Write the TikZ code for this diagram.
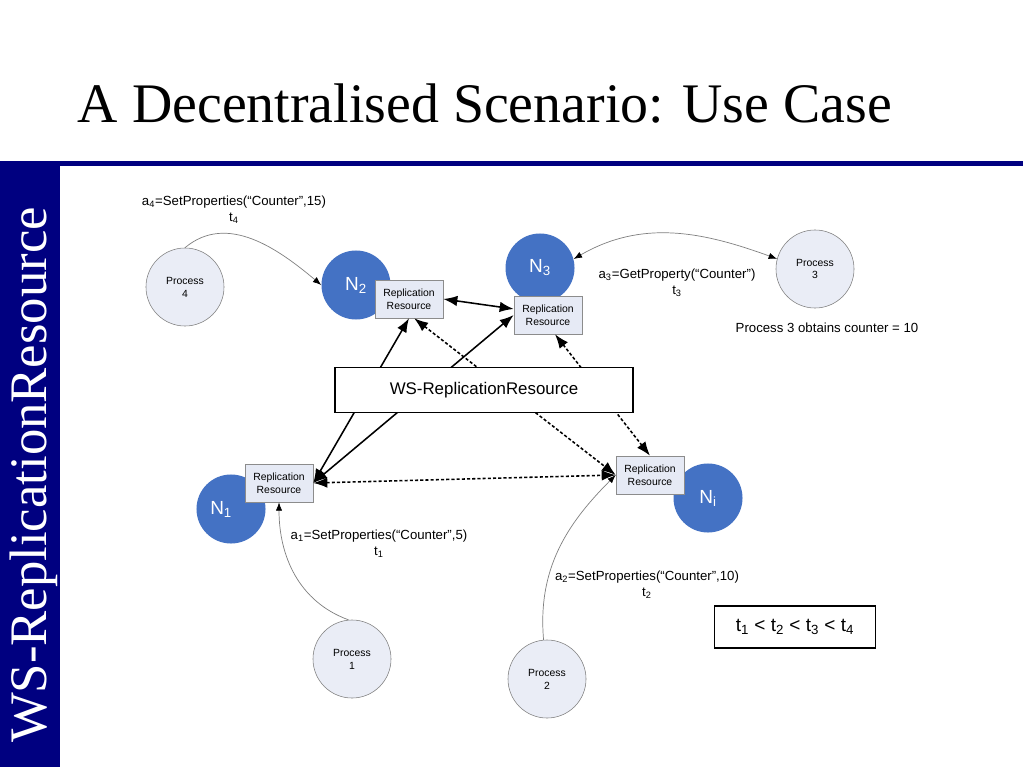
\documentclass[tikz,border=0pt]{standalone}
\usepackage{fontspec}
\setmainfont{Liberation Sans}
\newfontfamily\titlefont{Liberation Serif}
\usepackage{xcolor}
\usepackage{tikz}
\usetikzlibrary{arrows.meta}

\definecolor{barblue}{RGB}{0,0,128}
\definecolor{nodeblue}{RGB}{68,114,196}
\definecolor{boxfill}{RGB}{230,234,245}
\definecolor{procfill}{RGB}{234,237,246}
\definecolor{linegray}{RGB}{128,128,128}
\definecolor{boxgray}{RGB}{140,140,140}

\begin{document}
\begin{tikzpicture}[x=0.025cm,y=-0.025cm,
    nodecirc/.style={circle,fill=nodeblue,text=white,minimum size=1.725cm,inner sep=0pt,font=\fontsize{13.5}{15}\selectfont},
    nlabel/.style={text=white,font=\fontsize{13.5}{15}\selectfont},
    proc/.style={circle,draw=linegray,fill=procfill,minimum size=1.95cm,inner sep=0pt,align=center,font=\fontsize{7.4}{9.2}\selectfont},
    repl/.style={draw=boxgray,fill=boxfill,minimum width=1.7cm,minimum height=0.95cm,inner sep=0pt,align=center,font=\fontsize{7.4}{9.2}\selectfont},
    msg/.style={align=center,font=\fontsize{9.4}{11.4}\selectfont},
    solidlink/.style={{Latex[length=10pt,width=7.5pt]}-{Latex[length=10pt,width=7.5pt]},line width=1.1pt},
    dotlink/.style={solidlink,dash pattern=on 2.2pt off 1.5pt},
    call/.style={-{Latex[length=6pt,width=4.5pt,color=black]},draw=linegray,line width=0.5pt},
    callboth/.style={{Latex[length=6pt,width=4.5pt,color=black]}-{Latex[length=6pt,width=4.5pt,color=black]},draw=linegray,line width=0.5pt}]
    \fill[white] (0,0) rectangle (1023,767);
    \useasboundingbox (0,0) rectangle (1023,767);
    \fill[barblue] (0,161) rectangle (1023,166);
    \fill[barblue] (0,161) rectangle (60,767);
    \node[anchor=base west,font=\titlefont\fontsize{39.7}{48}\selectfont] (title) at (73,123) {A Decentralised Scenario: Use Case};
    \node[rotate=90,anchor=base,text=white,font=\titlefont\fontsize{37.5}{44}\selectfont] (side) at (46,475) {WS-ReplicationResource};

    \node[proc] (p4) at (185,287) {Process\\4};
    \node[nodecirc] (n2) at (356,285) {N\textsubscript{2}};
    \node[repl] (rr2) at (409,299) {Replication\\Resource};
    \node[nodecirc] (n3) at (540,268) {N\textsubscript{3}};
    \node[repl] (rr3) at (548,315) {Replication\\Resource};
    \node[proc] (p3) at (815,269) {Process\\3};
    \node[nodecirc,label={[nlabel,xshift=-7pt]center:N\textsubscript{1}}] (n1) at (231,509) {};
    \node[repl] (rr1) at (279,483) {Replication\\Resource};
    \node[nodecirc] (ni) at (708,498) {N\textsubscript{i}};
    \node[repl] (rri) at (650,475) {Replication\\Resource};
    \node[proc] (p1) at (352,659) {Process\\1};
    \node[proc] (p2) at (547,679) {Process\\2};

    \draw[solidlink] (rr2.east) -- (rr3.170);
    \draw[solidlink] (rr1.east) -- (rr2.south);
    \draw[solidlink] (rr1.east) -- (rr3.west);
    \draw[dotlink] (rr1.east) -- (rri.west);
    \draw[dotlink] (rr2.-75) -- (rri.west);
    \draw[dotlink] (rr3.-70) -- (rri.north);
    \node[draw,fill=white,line width=0.8pt,minimum width=7.45cm,minimum height=1.125cm,font=\fontsize{12}{14}\selectfont] (ws) at (484,390) {WS-ReplicationResource};

    \draw[call] (p4.north) to[out=40,in=140] (n2.west);
    \draw[callboth] (n3.15) to[out=30,in=160] (p3.165);
    \draw[call] (p1.95) to[out=160,in=-90] (rr1.south);
    \draw[call] (p2.95) to[out=95,in=-135] (rri.west);

    \node[msg] (a4) at (234,210) {a\textsubscript{4}=SetProperties(“Counter”,15)\\t\textsubscript{4}};
    \node[msg] (a3) at (677,283) {a\textsubscript{3}=GetProperty(“Counter”)\\t\textsubscript{3}};
    \node[msg] (a1) at (379,544) {a\textsubscript{1}=SetProperties(“Counter”,5)\\t\textsubscript{1}};
    \node[msg] (a2) at (647,585) {a\textsubscript{2}=SetProperties(“Counter”,10)\\t\textsubscript{2}};
    \node[msg] (obtains) at (827,328) {Process 3 obtains counter = 10};
    \node[draw,line width=0.8pt,minimum width=4.025cm,minimum height=1.05cm,font=\fontsize{13.5}{15}\selectfont] (order) at (795,627) {t\textsubscript{1} < t\textsubscript{2} < t\textsubscript{3} < t\textsubscript{4}};
\end{tikzpicture}
\end{document}
